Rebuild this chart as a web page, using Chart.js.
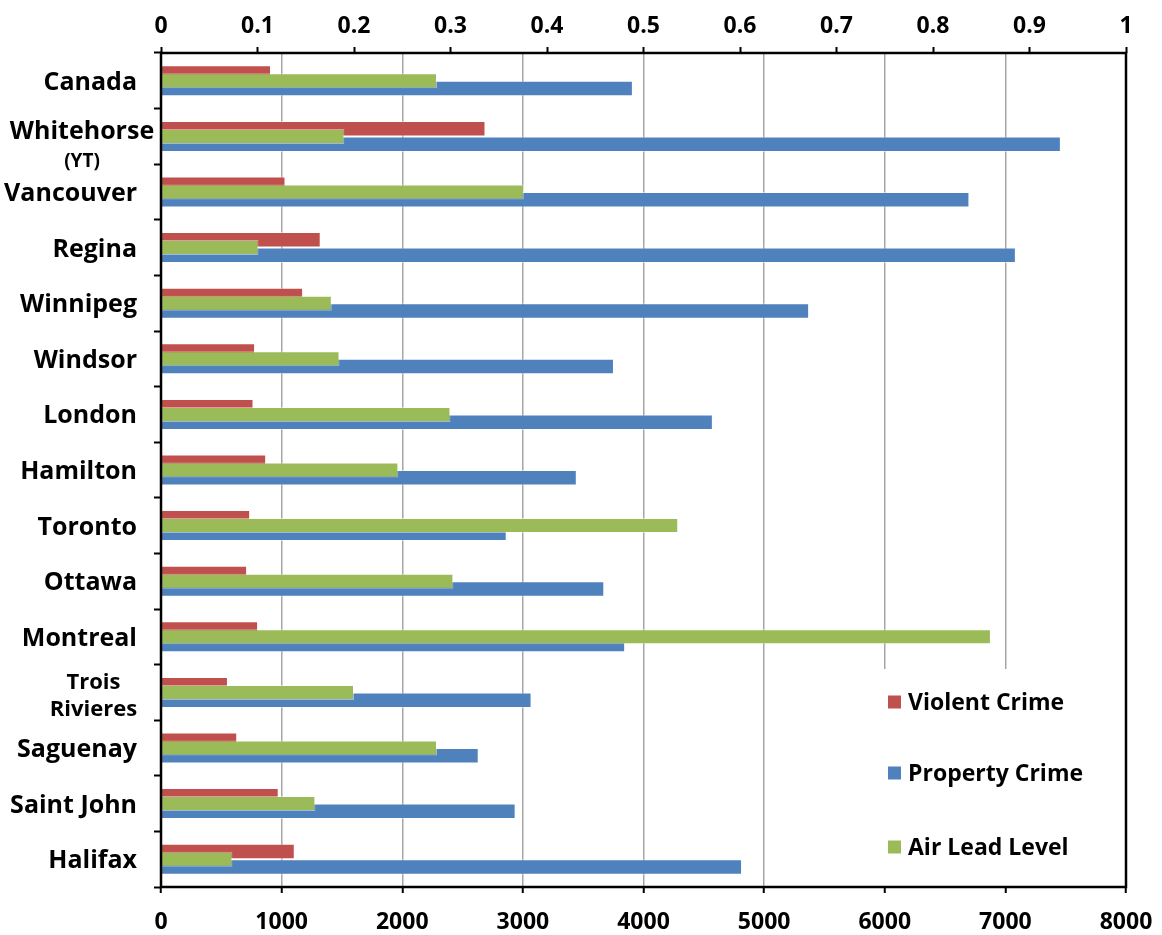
<!DOCTYPE html>
<html>
<head>
<meta charset="utf-8">
<script src="https://cdn.jsdelivr.net/npm/chart.js@4/dist/chart.umd.min.js"></script>
<style>
  html, body { margin: 0; padding: 0; background: #fff; }
  #wrap { width: 1162px; height: 935px; }
</style>
</head>
<body>
<div id="wrap"><canvas id="c" width="1162" height="935"></canvas></div>
<script>
// Cities (multi-line labels are given as arrays of lines)
const categories = ['Canada', ['Whitehorse', '(YT)'], 'Vancouver', 'Regina', 'Winnipeg', 'Windsor',
  'London', 'Hamilton', 'Toronto', 'Ottawa', 'Montreal', ['Trois', 'Rivieres'], 'Saguenay',
  'Saint John', 'Halifax'];

// Crime rates (bottom axis) and air lead level (top axis)
const violentCrime = [912, 2690, 1032, 1324, 1178, 780, 767, 872, 739, 714, 805, 555, 632, 976, 1109];
const propertyCrime = [3912, 7460, 6702, 7087, 5373, 3755, 4575, 3447, 2866, 3675, 3848, 3072, 2634, 2940, 4817];
const airLeadLevel = [0.286, 0.190, 0.376, 0.101, 0.177, 0.185, 0.300, 0.246, 0.536, 0.303, 0.860, 0.200, 0.286, 0.160, 0.074];

// Axis tick labels
const crimeTicks = ['0', '1000', '2000', '3000', '4000', '5000', '6000', '7000', '8000'];
const leadTicks = ['0', '0.1', '0.2', '0.3', '0.4', '0.5', '0.6', '0.7', '0.8', '0.9', '1'];

// Series names, in legend order
const seriesNames = ['Violent Crime', 'Property Crime', 'Air Lead Level'];

const RED = '#C0504D', BLUE = '#4F81BD', GREEN = '#9BBB59';
const FONT = "'Open Sans', 'DejaVu Sans', sans-serif";

// Per-label layout for the wrapped category names
const wrappedLabelLayout = {
  'Whitehorse': { cx: 82, offsets: [-6.5, 23.5], sizes: [25, 19] },
  'Trois': { cx: 93.5, offsets: [-11, 16], sizes: [22, 22] }
};

const categoryLabels = {
  id: 'categoryLabels',
  afterDraw(chart) {
    const ctx = chart.ctx;
    const yScale = chart.scales.y;
    const rightX = 137;
    ctx.save();
    ctx.fillStyle = '#000';
    ctx.textBaseline = 'alphabetic';
    categories.forEach((label, i) => {
      const yc = yScale.getPixelForValue(i);
      if (Array.isArray(label)) {
        const lay = wrappedLabelLayout[label[0]];
        ctx.textAlign = 'center';
        label.forEach((line, k) => {
          const size = lay.sizes[k];
          ctx.font = `bold ${size}px ${FONT}`;
          ctx.fillText(line, lay.cx, yc + lay.offsets[k] + size * 0.357);
        });
      } else {
        const size = 25;
        ctx.font = `bold ${size}px ${FONT}`;
        ctx.textAlign = 'right';
        ctx.fillText(label, rightX, yc + size * 0.357);
      }
    });
    ctx.restore();
  }
};

const legendBox = {
  id: 'legendBox',
  afterDatasetsDraw(chart) {
    const ctx = chart.ctx;
    const area = chart.chartArea;
    const colors = [RED, BLUE, GREEN];
    const rows = [702, 773, 847];
    ctx.save();
    ctx.fillStyle = '#fff';
    ctx.fillRect(872, 669, area.right - 872, area.bottom - 669);
    ctx.font = `bold 23px ${FONT}`;
    ctx.textAlign = 'left';
    ctx.textBaseline = 'alphabetic';
    seriesNames.forEach((name, i) => {
      ctx.fillStyle = colors[i];
      ctx.fillRect(888, rows[i] - 6.5, 13, 13);
      ctx.fillStyle = '#000';
      ctx.fillText(name, 908, rows[i] + 23 * 0.357);
    });
    ctx.restore();
  }
};

const frame = {
  id: 'frame',
  afterDraw(chart) {
    const { left, right, top, bottom } = chart.chartArea;
    const ctx = chart.ctx;
    ctx.save();
    ctx.strokeStyle = '#000';
    ctx.lineWidth = 2.5;
    ctx.strokeRect(left, top, right - left, bottom - top);
    ctx.restore();
  }
};

// Horizontal axes: fixed height, and no extra side padding for edge labels
function fitHorizontal(height) {
  return (s) => {
    s.height = height;
    s.paddingLeft = 0;
    s.paddingRight = 0;
  };
}

new Chart(document.getElementById('c'), {
  type: 'bar',
  data: {
    labels: categories,
    datasets: [
      {
        label: seriesNames[0], data: violentCrime, xAxisID: 'x', order: 0,
        backgroundColor: RED, borderColor: 'rgba(255,255,255,0.45)', borderWidth: 1,
        categoryPercentage: 0.557, barPercentage: 1
      },
      {
        label: seriesNames[1], data: propertyCrime, xAxisID: 'x', order: 0,
        backgroundColor: BLUE, borderColor: 'rgba(255,255,255,0.45)', borderWidth: 1,
        categoryPercentage: 0.557, barPercentage: 1
      },
      {
        label: seriesNames[2], data: airLeadLevel, xAxisID: 'x2', order: -1, grouped: false,
        backgroundColor: GREEN, borderColor: 'rgba(255,255,255,0.45)', borderWidth: 1,
        categoryPercentage: 0.557, barPercentage: 0.484
      }
    ]
  },
  options: {
    indexAxis: 'y',
    responsive: false,
    animation: false,
    events: [],
    layout: { padding: { left: 0, right: 36, top: 0, bottom: 0 } },
    plugins: { legend: { display: false }, tooltip: { enabled: false } },
    scales: {
      y: {
        type: 'category',
        offset: true,
        afterFit(s) { s.width = 161; s.paddingTop = 0; s.paddingBottom = 0; },
        ticks: { display: false },
        border: { display: false },
        grid: {
          offset: true, drawOnChartArea: false, drawTicks: true,
          tickLength: 7, tickWidth: 2, tickColor: '#000', color: '#000'
        }
      },
      x: {
        position: 'bottom',
        min: 0, max: 8000,
        afterFit: fitHorizontal(48),
        border: { display: false },
        grid: { color: '#A6A6A6', lineWidth: 1.5, tickLength: 6, tickWidth: 2, tickColor: '#000' },
        ticks: {
          stepSize: 1000, padding: 16, color: '#000',
          font: { family: FONT, size: 23, weight: 'bold' },
          callback: (v, i) => crimeTicks[i]
        }
      },
      x2: {
        position: 'top',
        min: 0, max: 1,
        afterFit: fitHorizontal(53),
        border: { display: false },
        grid: { drawOnChartArea: false, tickLength: 6, tickWidth: 2, tickColor: '#000' },
        ticks: {
          stepSize: 0.1, padding: 7, color: '#000',
          font: { family: FONT, size: 23, weight: 'bold' },
          callback: (v, i) => leadTicks[i]
        }
      }
    }
  },
  plugins: [legendBox, frame, categoryLabels]
});
</script>
</body>
</html>
